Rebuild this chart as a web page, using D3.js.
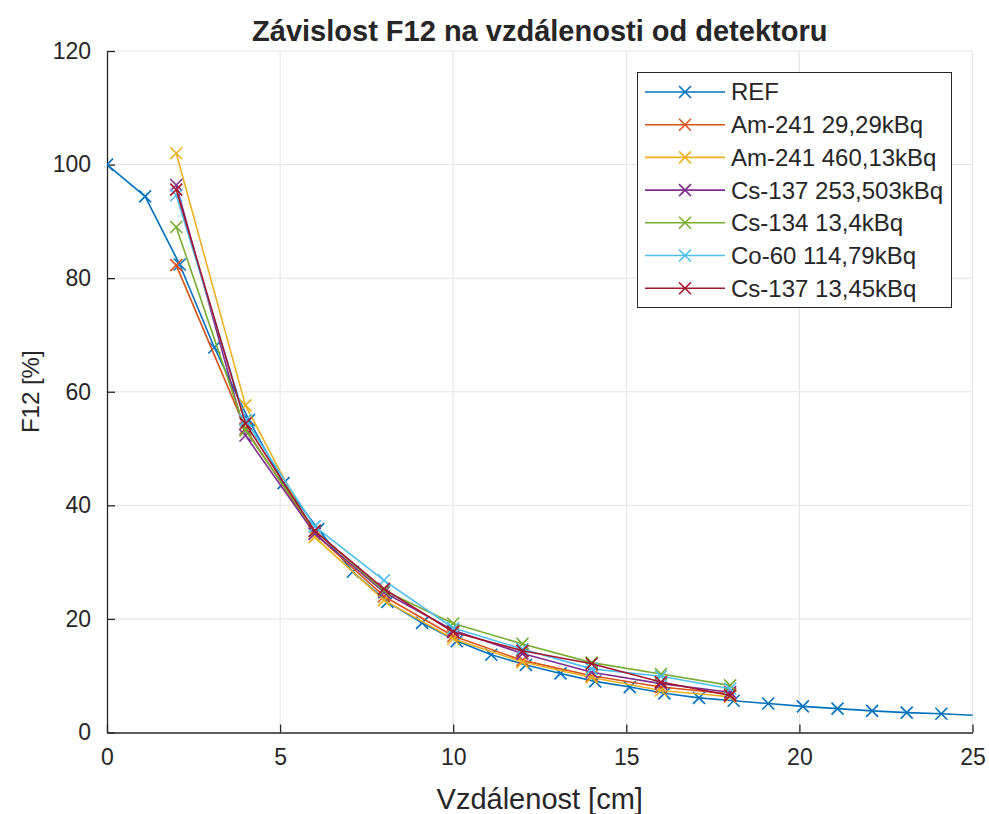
<!DOCTYPE html>
<html>
<head>
<meta charset="utf-8">
<script src="https://cdn.jsdelivr.net/npm/d3@7"></script>
<style>
  body { margin: 0; background: #fff; }
  text { font-family: "Liberation Sans", Arial, Helvetica, sans-serif; fill: #262626; }
</style>
</head>
<body>
<svg id="chart" width="989" height="814"></svg>
<script>
// Reference curve (measured at 1 cm steps, offset 0.1 cm)
const refX = [0, 1.1, 2.1, 3.1, 4.1, 5.1, 6.1, 7.1, 8.1, 9.1, 10.1, 11.1, 12.1, 13.1,
              14.1, 15.1, 16.1, 17.1, 18.1, 19.1, 20.1, 21.1, 22.1, 23.1, 24.1, 25.1];
const refY = [100, 94.4, 82.4, 67.8, 55.0, 43.9, 35.8, 28.3, 23.0, 19.3, 16.1, 13.7, 11.9, 10.4,
              9.0, 8.0, 6.9, 6.1, 5.6, 5.1, 4.6, 4.2, 3.8, 3.5, 3.3, 3.0];

// Source measurements (2 cm steps)
const srcX = [2, 4, 6, 8, 10, 12, 14, 16, 18];
const am241Low   = [82.3, 53.5, 35.0, 24.0, 17.0, 12.7, 10.0, 8.0, 6.8];
const am241High  = [102.0, 57.6, 34.4, 23.3, 16.5, 12.4, 9.7, 7.4, 6.3];
const cs137High  = [96.4, 52.3, 35.0, 24.7, 18.0, 13.9, 10.6, 8.6, 7.1];
const cs134      = [89.0, 53.2, 35.5, 25.0, 19.2, 15.6, 12.3, 10.3, 8.3];
const co60       = [94.6, 55.0, 36.3, 26.8, 18.4, 14.7, 11.2, 9.9, 7.7];
const cs137Low   = [95.6, 54.4, 35.5, 25.3, 17.7, 14.4, 12.1, 8.9, 6.5];

const seriesNames = ["REF", "Am-241 29,29kBq", "Am-241 460,13kBq", "Cs-137 253,503kBq",
                     "Cs-134 13,4kBq", "Co-60 114,79kBq", "Cs-137 13,45kBq"];
const seriesColors = ["#0072BD", "#D95319", "#EDB120", "#7E2F8E", "#77AC30", "#4DBEEE", "#A2142F"];

const xTicks = [0, 5, 10, 15, 20, 25];
const yTicks = [0, 20, 40, 60, 80, 100, 120];

const titleText = "Závislost F12 na vzdálenosti od detektoru";
const xLabelText = "Vzdálenost [cm]";
const yLabelText = "F12 [%]";

// Assemble series from the arrays above
const series = [
  { name: seriesNames[0], color: seriesColors[0], pts: refX.map((x, i) => [x, refY[i]]) },
  ...[am241Low, am241High, cs137High, cs134, co60, cs137Low].map((vals, k) => ({
    name: seriesNames[k + 1], color: seriesColors[k + 1],
    pts: srcX.map((x, i) => [x, vals[i]])
  }))
];

const svg = d3.select("#chart");
const plot = { left: 107, top: 51, right: 972.5, bottom: 732.5 };

const x = d3.scaleLinear().domain([0, 25]).range([plot.left, plot.right]);
const y = d3.scaleLinear().domain([0, 120]).range([plot.bottom, plot.top]);

// Grid
const grid = svg.append("g").attr("stroke", "#e3e3e3").attr("stroke-width", 1);
xTicks.filter(t => t > 0).forEach(t => {
  grid.append("line").attr("x1", x(t)).attr("x2", x(t)).attr("y1", plot.top).attr("y2", plot.bottom);
});
yTicks.filter(t => t > 0).forEach(t => {
  grid.append("line").attr("x1", plot.left).attr("x2", plot.right).attr("y1", y(t)).attr("y2", y(t));
});

// Axes (left and bottom, ticks pointing inward)
const xAxis = d3.axisBottom(x).tickValues(xTicks).tickSizeInner(-8).tickSizeOuter(0).tickPadding(16);
const yAxis = d3.axisLeft(y).tickValues(yTicks).tickSizeInner(-8).tickSizeOuter(0).tickPadding(16);

const gx = svg.append("g").attr("transform", `translate(0,${plot.bottom})`).call(xAxis);
const gy = svg.append("g").attr("transform", `translate(${plot.left},0)`).call(yAxis);
[gx, gy].forEach(g => {
  g.select(".domain").attr("stroke", "#262626").attr("stroke-width", 1.3);
  g.selectAll(".tick line").attr("stroke", "#262626").attr("stroke-width", 1.3);
  g.selectAll(".tick text").attr("font-size", 23).attr("fill", "#262626")
    .style("font-family", '"Liberation Sans", Arial, sans-serif');
});
gx.selectAll(".tick text").attr("dy", "0.71em");

// Clip region for the data
svg.append("clipPath").attr("id", "plotClip").append("rect")
  .attr("x", plot.left).attr("y", plot.top)
  .attr("width", plot.right - plot.left).attr("height", plot.bottom - plot.top);

const line = d3.line().x(d => x(d[0])).y(d => y(d[1]));
const ms = 6;
const crossPath = `M${-ms},${-ms}L${ms},${ms}M${-ms},${ms}L${ms},${-ms}`;

const data = svg.append("g").attr("clip-path", "url(#plotClip)");
series.forEach(s => {
  const g = data.append("g");
  g.append("path").datum(s.pts).attr("d", line)
    .attr("fill", "none").attr("stroke", s.color).attr("stroke-width", 1.6)
    .attr("stroke-linejoin", "round");
  g.selectAll("path.mk").data(s.pts.filter(d => d[0] <= 25)).enter().append("path")
    .attr("class", "mk")
    .attr("transform", d => `translate(${x(d[0])},${y(d[1])})`)
    .attr("d", crossPath).attr("fill", "none")
    .attr("stroke", s.color).attr("stroke-width", 1.6);
});

// Title and axis labels
svg.append("text").attr("x", (plot.left + plot.right) / 2).attr("y", 41)
  .attr("text-anchor", "middle").attr("font-size", 29).attr("font-weight", "bold")
  .attr("fill", "#000").text(titleText);
svg.append("text").attr("x", (plot.left + plot.right) / 2).attr("y", 809)
  .attr("text-anchor", "middle").attr("font-size", 29).text(xLabelText);
svg.append("text").attr("transform", `translate(39,${(plot.top + plot.bottom) / 2}) rotate(-90)`)
  .attr("text-anchor", "middle").attr("font-size", 24).text(yLabelText);

// Legend
const lg = svg.append("g");
lg.append("rect").attr("x", 637.5).attr("y", 72.5).attr("width", 314).attr("height", 235)
  .attr("fill", "#fff").attr("stroke", "#262626").attr("stroke-width", 1);
series.forEach((s, i) => {
  const cy = 92 + i * 32.7;
  lg.append("line").attr("x1", 645).attr("x2", 725).attr("y1", cy).attr("y2", cy)
    .attr("stroke", s.color).attr("stroke-width", 1.6);
  lg.append("path").attr("transform", `translate(685,${cy})`).attr("d", crossPath)
    .attr("fill", "none").attr("stroke", s.color).attr("stroke-width", 1.6);
  lg.append("text").attr("x", 731).attr("y", cy).attr("dy", "0.35em")
    .attr("font-size", 24).text(s.name);
});
</script>
</body>
</html>
